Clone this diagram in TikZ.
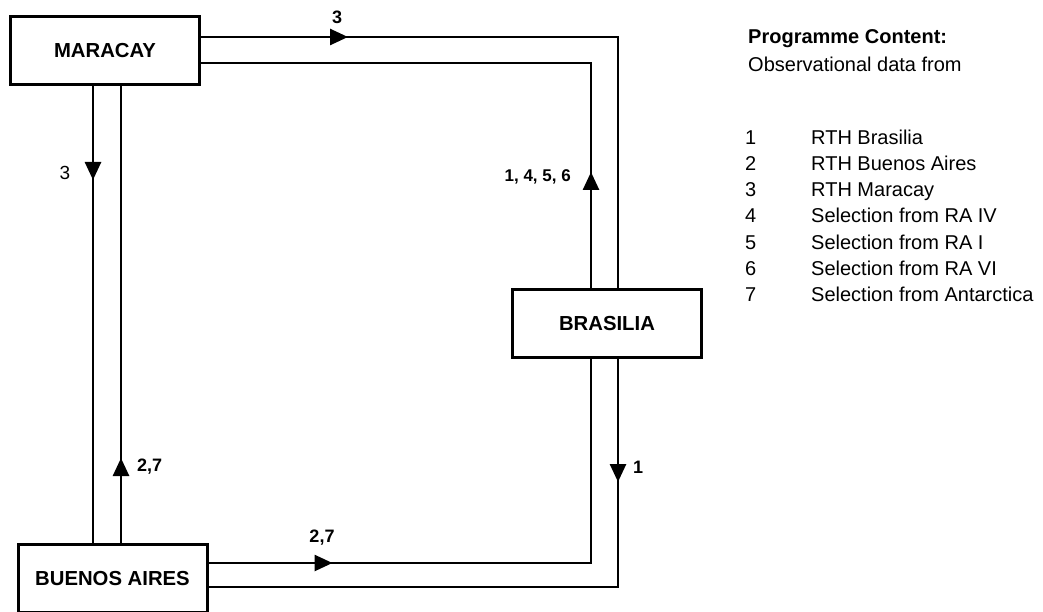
\documentclass[tikz,border=0pt]{standalone}
\usepackage{fontspec}
\setmainfont{Liberation Sans}
\usetikzlibrary{positioning, arrows.meta, decorations.markings}

\begin{document}
\begin{tikzpicture}[
    x=1pt, y=-1pt,
    station/.style={rectangle, draw, line width=3pt, minimum width=189pt, minimum height=68pt, inner sep=0pt, font=\fontsize{20.3}{24}\selectfont\bfseries},
    link/.style={line width=2.6pt, postaction={decorate}},
    midarrow/.style={decoration={markings, mark=at position #1 with {\arrow{Triangle[length=18pt, width=16pt]}}}},
    flowlabel/.style={inner sep=0pt, font=\fontsize{18}{21}\selectfont\bfseries},
    legend/.style={anchor=base west, inner sep=0pt, font=\fontsize{20}{23}\selectfont},
]
\useasboundingbox (0,0) rectangle (1043,612);

% Stations
\node[station] (maracay) at (105,50.5) {MARACAY};
\node[station, below right=202pt and 310pt of maracay] (brasilia) {BRASILIA};
\node[station, below=457pt of maracay, xshift=7.5pt] (buenos) {BUENOS AIRES};

% Links between the stations
\draw[link, midarrow=147pt] ([yshift=13.5pt]maracay.east) -| ([xshift=11pt]brasilia.north);
\draw[link, midarrow=116pt] ([xshift=-16pt]brasilia.north) |- ([yshift=-12.5pt]maracay.east);
\draw[link, midarrow=94pt] ([xshift=-12pt]maracay.south) -- ([xshift=-12pt]maracay.south |- buenos.north);
\draw[link, midarrow=85pt] ([xshift=8.5pt]buenos.north) -- ([xshift=8.5pt]buenos.north |- maracay.south);
\draw[link, midarrow=124pt] ([yshift=15.5pt]buenos.east) -| ([xshift=-16pt]brasilia.south);
\draw[link, midarrow=123pt] ([xshift=11pt]brasilia.south) |- ([yshift=-8.5pt]buenos.east);

% Link labels
\node[flowlabel] (lbltop) at (337,17) {3};
\node[flowlabel, font=\fontsize{19}{22}\selectfont] (lblleft) at (65,173) {3};
\node[flowlabel, anchor=east, font=\fontsize{17}{20}\selectfont\bfseries] (lblback) at (571,177) {1, 4, 5, 6};
\node[flowlabel, anchor=west] (lblup) at (137,467) {2,7};
\node[flowlabel] (lblbottom) at (322,538) {2,7};
\node[flowlabel] (lblright) at (638,467) {1};

% Legend
\node[legend, font=\fontsize{20}{23}\selectfont\bfseries] (title) at (748,44) {Programme Content:};
\node[legend] (subtitle) at (748,72) {Observational data from};
\node[legend] (num1) at (745,145) {1};
\node[legend] (txt1) at (811,145) {RTH Brasilia};
\node[legend] (num2) at (745,171) {2};
\node[legend] (txt2) at (811,171) {RTH Buenos Aires};
\node[legend] (num3) at (745,197) {3};
\node[legend] (txt3) at (811,197) {RTH Maracay};
\node[legend] (num4) at (745,223) {4};
\node[legend] (txt4) at (811,223) {Selection from RA IV};
\node[legend] (num5) at (745,249) {5};
\node[legend] (txt5) at (811,249) {Selection from RA I};
\node[legend] (num6) at (745,275) {6};
\node[legend] (txt6) at (811,275) {Selection from RA VI};
\node[legend] (num7) at (745,301) {7};
\node[legend] (txt7) at (811,301) {Selection from Antarctica};

\end{tikzpicture}
\end{document}
